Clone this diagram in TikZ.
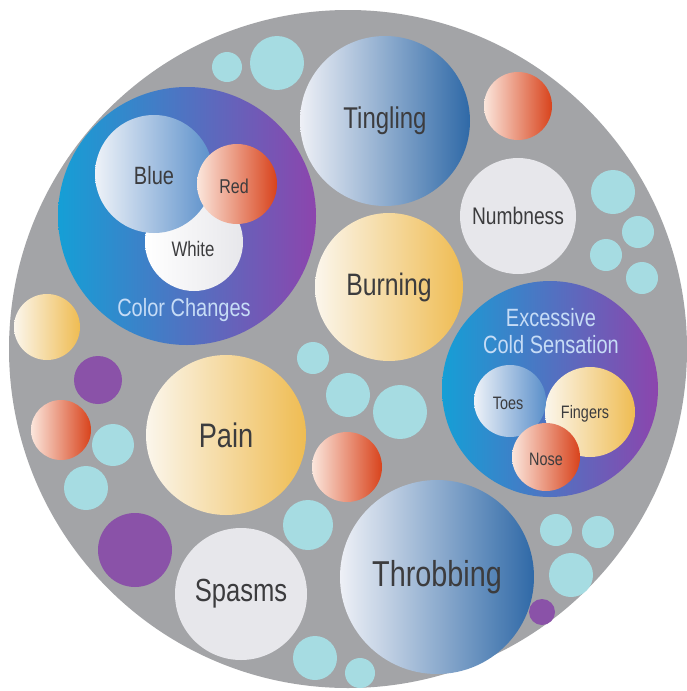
\documentclass[tikz,border=0pt]{standalone}
\usepackage{fontspec}
\setmainfont{Liberation Sans}[FakeStretch=0.8]
\definecolor{bggray}{HTML}{A3A4A7}
\definecolor{cyanc}{HTML}{A6DCE2}
\definecolor{purc}{HTML}{8A52A8}
\definecolor{redL}{HTML}{FBE6DC}
\definecolor{redR}{HTML}{D8431C}
\definecolor{yelL}{HTML}{FBF6EC}
\definecolor{yelR}{HTML}{EFBC52}
\definecolor{bluL}{HTML}{EEF0F6}
\definecolor{bluR}{HTML}{2F69A7}
\definecolor{lblL}{HTML}{EEF2F8}
\definecolor{lblR}{HTML}{5A8FCA}
\definecolor{grpL}{HTML}{159FD6}
\definecolor{grpM}{HTML}{5A70C0}
\definecolor{grpR}{HTML}{8C45AD}
\definecolor{pale}{HTML}{E7E7EB}
\definecolor{txtc}{HTML}{3C3C3E}
\definecolor{grptxt}{HTML}{C6DCF6}
\tikzset{
  bub/.style={circle,inner sep=0pt,outer sep=0pt,minimum size=#1*2pt},
  cy/.style={bub=#1,fill=cyanc},
  pu/.style={bub=#1,fill=purc},
  rd/.style={bub=#1,left color=redL,right color=redR},
  yl/.style={bub=#1,left color=yelL,right color=yelR},
  bl/.style={bub=#1,left color=bluL,right color=bluR},
  lb/.style={bub=#1,left color=lblL,right color=lblR},
  gp/.style={bub=#1,left color=grpL,middle color=grpM,right color=grpR},
  pl/.style={bub=#1,fill=pale},
  wt/.style={bub=#1,left color=white,right color=pale},
  lbl/.style={text=txtc,font=\fontsize{#1}{#1}\selectfont,inner sep=0pt},
  glbl/.style={text=grptxt,font=\fontsize{#1}{#1}\selectfont,inner sep=0pt},
}
\begin{document}
\begin{tikzpicture}[x=1pt,y=-1pt]
\fill[white] (0,0) rectangle (686,691);
\useasboundingbox (0,0) rectangle (686,691);
\node[bub=339,fill=bggray] (bg) at (348,349) {};
% small cyan
\node[cy=15] (c1) at (227,67) {};
\node[cy=27] (c2) at (277,63) {};
\node[cy=22] (c3) at (613,192) {};
\node[cy=16] (c4) at (638,232) {};
\node[cy=16] (c5) at (606,255) {};
\node[cy=16] (c6) at (642,278) {};
\node[cy=16] (c7) at (313,358) {};
\node[cy=22] (c8) at (348,395) {};
\node[cy=27] (c9) at (400,412) {};
\node[cy=25] (c10) at (308,525) {};
\node[cy=21] (c11) at (113,445) {};
\node[cy=22] (c12) at (86,488) {};
\node[cy=22] (c13) at (315,658) {};
\node[cy=15] (c14) at (360,673) {};
\node[cy=16] (c15) at (556,530) {};
\node[cy=16] (c16) at (598,532) {};
\node[cy=22] (c17) at (571,575) {};
% purple
\node[pu=24] (p1) at (98,380) {};
\node[pu=37] (p2) at (135,550) {};
\node[pu=13] (p3) at (542,612) {};
% small red / yellow
\node[rd=34] (r1) at (518,106) {};
\node[rd=30] (r2) at (61,430) {};
\node[rd=35] (r3) at (347,467) {};
\node[yl=33] (y1) at (47,327) {};
% color changes group
\node[gp=129] (cc) at (187,216) {};
\node[wt=49] (white) at (194,242) {};
\node[lb=59] (blue) at (154,174) {};
\node[rd=40] (red) at (237,184) {};
\node[lbl=25] (tblue) at (154,176) {Blue};
\node[lbl=20] (tred) at (234,186) {Red};
\node[lbl=21] (twhite) at (193,249) {White};
\node[glbl=25] (tcc) at (184,310) {Color Changes};
% main bubbles
\node[bl=85,lbl=30] (tingling) at (385,121) {Tingling};
\node[pl=58,lbl=24] (numb) at (518,216) {Numbness};
\node[yl=74,lbl=31] (burning) at (389,287) {Burning};
\node[yl=80,lbl=34] (pain) at (226,435) {Pain};
\node[pl=66,lbl=32] (spasms) at (241,594) {Spasms};
\node[bl=97,lbl=36] (throb) at (437,577) {Throbbing};
% excessive cold group
\node[gp=108] (ecs) at (550,389) {};
\node[yl=45] (fingers) at (590,412) {};
\node[lb=36] (toes) at (510,401) {};
\node[rd=34] (nose) at (546,457) {};
\node[glbl=25] (tex) at (551,318) {Excessive};
\node[glbl=25] (tcs) at (551,345) {Cold Sensation};
\node[lbl=18] (ttoes) at (508,403) {Toes};
\node[lbl=18] (tfing) at (585,414) {Fingers};
\node[lbl=18] (tnose) at (546,459) {Nose};
\end{tikzpicture}
\end{document}
